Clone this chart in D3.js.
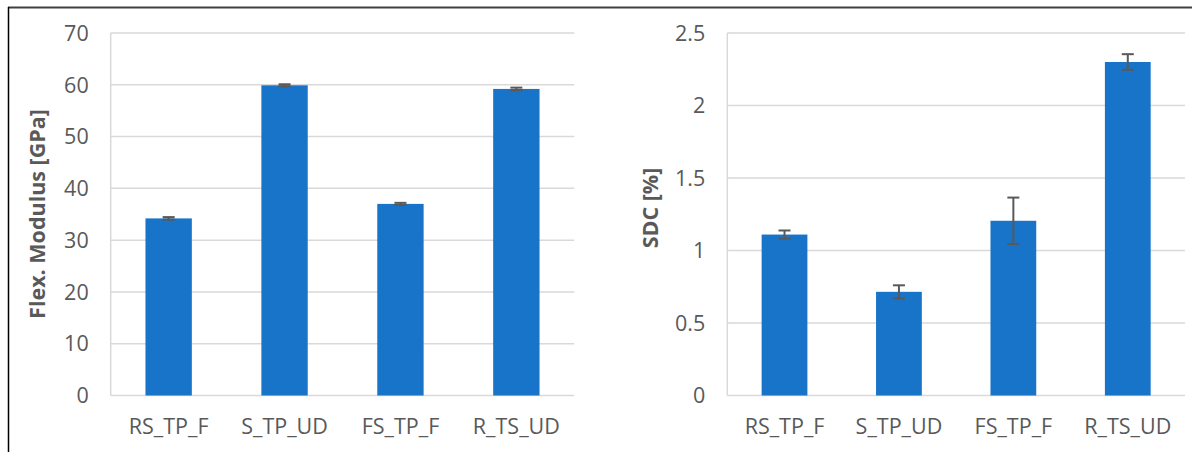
<!DOCTYPE html>
<html>
<head>
<meta charset="utf-8">
<script src="https://cdn.jsdelivr.net/npm/d3@7/dist/d3.min.js"></script>
<style>
  html, body { margin: 0; padding: 0; background: #fff; }
  svg { display: block; }
  text { font-family: "Open Sans", "Noto Sans", sans-serif; fill: #595959; }
</style>
</head>
<body>
<svg id="chart" width="1192" height="452"></svg>
<script>
// Sample groups shared by both panels
const categories = ["RS_TP_F", "S_TP_UD", "FS_TP_F", "R_TS_UD"];

// Flexural modulus (GPa) with standard deviation
const modulusValues = [34.2, 59.9, 37.0, 59.2];
const modulusErrors = [0.25, 0.2, 0.2, 0.25];
const modulusTicks = [0, 10, 20, 30, 40, 50, 60, 70];

// Strain at damage onset, SDC (%) with standard deviation
const sdcValues = [1.11, 0.715, 1.205, 2.30];
const sdcErrors = [0.028, 0.045, 0.16, 0.054];
const sdcTicks = [0, 0.5, 1, 1.5, 2, 2.5];

const svg = d3.select("#chart");
const BAR = "#1874c9";
const GRID = "#d9d9d9";
const ERR = "#595959";
const TICK_SIZE = 21.5;
const TITLE_SIZE = 21.5;

// Outer frame: top rule and left rule
svg.append("line").attr("x1", 8).attr("x2", 1192).attr("y1", 7.5).attr("y2", 7.5)
  .attr("stroke", "#404040").attr("stroke-width", 2);
svg.append("line").attr("x1", 8.5).attr("x2", 8.5).attr("y1", 7).attr("y2", 452)
  .attr("stroke", "#000").attr("stroke-width", 1.5);

function panel(opt) {
  const g = svg.append("g");
  const y = d3.scaleLinear().domain([0, opt.ticks[opt.ticks.length - 1]]).range([opt.bottom, opt.top]);
  const x = d3.scaleBand().domain(categories).range([opt.left, opt.right])
    .paddingInner(0.6).paddingOuter(0.3);

  // horizontal gridlines
  g.selectAll(".grid").data(opt.ticks).join("line")
    .attr("x1", opt.left).attr("x2", opt.right)
    .attr("y1", d => y(d)).attr("y2", d => y(d))
    .attr("stroke", GRID).attr("stroke-width", 1.5);
  // vertical axis line
  g.append("line").attr("x1", opt.left).attr("x2", opt.left)
    .attr("y1", opt.top).attr("y2", opt.bottom)
    .attr("stroke", GRID).attr("stroke-width", 1.5);

  // y tick labels
  g.selectAll(".ytick").data(opt.ticks).join("text")
    .attr("x", opt.left - 22).attr("y", d => y(d))
    .attr("dy", "0.36em").attr("text-anchor", "end")
    .attr("font-size", TICK_SIZE).text(d => String(d));

  // bars
  g.selectAll(".bar").data(opt.values).join("rect")
    .attr("x", (d, i) => x(categories[i])).attr("width", x.bandwidth())
    .attr("y", d => y(d)).attr("height", d => y(0) - y(d))
    .attr("fill", BAR);

  // error bars
  const cap = 6;
  const eb = g.selectAll(".err").data(opt.values).join("g");
  eb.append("line")
    .attr("x1", (d, i) => x(categories[i]) + x.bandwidth() / 2)
    .attr("x2", (d, i) => x(categories[i]) + x.bandwidth() / 2)
    .attr("y1", (d, i) => y(d + opt.errors[i])).attr("y2", (d, i) => y(d - opt.errors[i]))
    .attr("stroke", ERR).attr("stroke-width", 2);
  [1, -1].forEach(s => {
    eb.append("line")
      .attr("x1", (d, i) => x(categories[i]) + x.bandwidth() / 2 - cap)
      .attr("x2", (d, i) => x(categories[i]) + x.bandwidth() / 2 + cap)
      .attr("y1", (d, i) => y(d + s * opt.errors[i])).attr("y2", (d, i) => y(d + s * opt.errors[i]))
      .attr("stroke", ERR).attr("stroke-width", 2);
  });

  // x category labels
  g.selectAll(".xlab").data(categories).join("text")
    .attr("x", d => x(d) + x.bandwidth() / 2).attr("y", opt.bottom + 38)
    .attr("text-anchor", "middle").attr("font-size", TICK_SIZE).text(d => d);

  // y axis title
  g.append("text")
    .attr("transform", `translate(${opt.titleX},${opt.titleY}) rotate(-90)`)
    .attr("text-anchor", "middle").attr("font-size", TITLE_SIZE).attr("font-weight", "bold")
    .text(opt.title);
}

panel({ left: 110.7, right: 574.3, top: 33, bottom: 395.5,
        values: modulusValues, errors: modulusErrors, ticks: modulusTicks,
        title: "Flex. Modulus [GPa]", titleX: 45, titleY: 214 });
panel({ left: 727.3, right: 1185, top: 33, bottom: 395.5,
        values: sdcValues, errors: sdcErrors, ticks: sdcTicks,
        title: "SDC [%]", titleX: 658, titleY: 208 });
</script>
</body>
</html>
